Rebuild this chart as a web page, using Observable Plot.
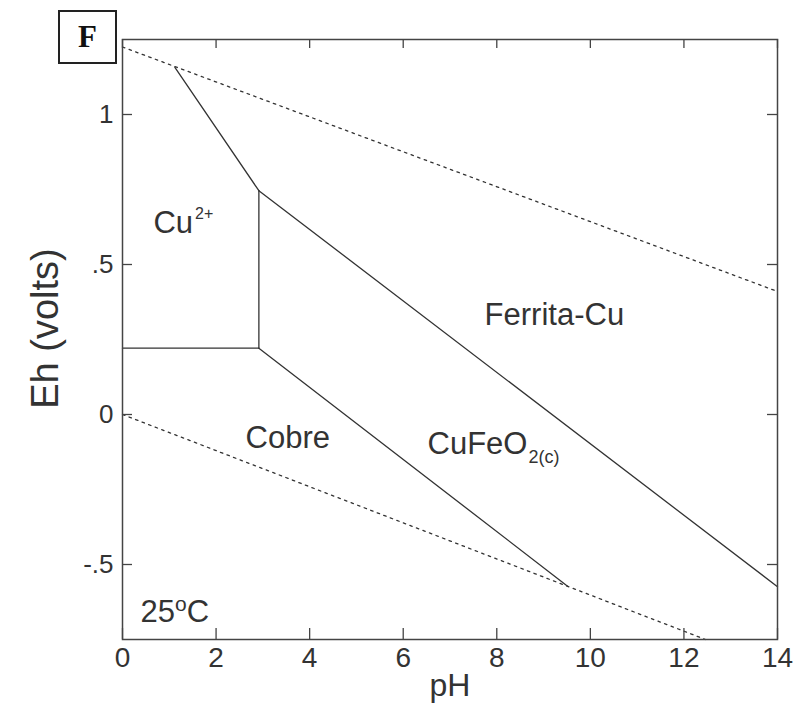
<!DOCTYPE html>
<html>
<head>
<meta charset="utf-8">
<script src="https://cdn.jsdelivr.net/npm/d3@7"></script>
<script src="https://cdn.jsdelivr.net/npm/@observablehq/plot@0.6"></script>
<style>
  html, body { margin: 0; padding: 0; background: white; }
  #wrap { position: relative; width: 796px; height: 707px; }
  #panel {
    position: absolute; left: 58px; top: 10px; width: 55px; height: 50px;
    border: 2px solid #222; background: white;
    font-family: "Liberation Serif", "Times New Roman", serif; font-weight: bold;
    font-size: 31px; color: #111; display: flex; align-items: center; justify-content: center;
  }
</style>
</head>
<body>
<div id="wrap"><div id="panel">F</div></div>
<script>
// Axis ticks
const xTicks = [0, 2, 4, 6, 8, 10, 12, 14];
const yTicks = [-0.5, 0, 0.5, 1];
const yTickLabels = ["-.5", "0", ".5", "1"];

// Water stability limits (dotted)
const waterUpper = [{pH: 0, Eh: 1.225}, {pH: 14, Eh: 0.41}];
const waterLower = [{pH: 0, Eh: 0}, {pH: 12.46, Eh: -0.75}];

// Phase boundaries (solid)
const cuFerrita = [{pH: 1.12, Eh: 1.157}, {pH: 2.915, Eh: 0.746}];
const cuVertical = [{pH: 2.915, Eh: 0.746}, {pH: 2.915, Eh: 0.221}];
const cuCobre = [{pH: 0, Eh: 0.221}, {pH: 2.915, Eh: 0.221}];
const ferritaCuFeO2 = [{pH: 2.915, Eh: 0.746}, {pH: 14, Eh: -0.574}];
const cuFeO2Cobre = [{pH: 2.915, Eh: 0.221}, {pH: 9.52, Eh: -0.573}];

// Region labels
const regionLabels = [
  {pH: 0.66, Eh: 0.606, main: "Cu", sup: "2+"},
  {pH: 7.74, Eh: 0.298, main: "Ferrita-Cu"},
  {pH: 2.63, Eh: -0.111, main: "Cobre"},
  {pH: 6.52, Eh: -0.131, main: "CuFeO", sub: "2(c)"},
  {pH: 0.385, Eh: -0.691, main: "25", sup: "o", after: "C"}
];

const ink = "#333";
const chart = Plot.plot({
  width: 796,
  height: 707,
  marginLeft: 122,
  marginRight: 19,
  marginTop: 39,
  marginBottom: 68,
  x: {domain: [0, 14]},
  y: {domain: [-0.75, 1.25]},
  style: {fontFamily: "'Liberation Sans', Arial, sans-serif", color: ink, background: "white"},
  marks: [
    Plot.line(waterUpper, {x: "pH", y: "Eh", stroke: ink, strokeWidth: 1.3, strokeDasharray: "2.5,4.5"}),
    Plot.line(waterLower, {x: "pH", y: "Eh", stroke: ink, strokeWidth: 1.3, strokeDasharray: "2.5,4.5"}),
    Plot.line(cuFerrita, {x: "pH", y: "Eh", stroke: ink, strokeWidth: 1.3}),
    Plot.line(cuVertical, {x: "pH", y: "Eh", stroke: ink, strokeWidth: 1.3}),
    Plot.line(cuCobre, {x: "pH", y: "Eh", stroke: ink, strokeWidth: 1.3}),
    Plot.line(ferritaCuFeO2, {x: "pH", y: "Eh", stroke: ink, strokeWidth: 1.3}),
    Plot.line(cuFeO2Cobre, {x: "pH", y: "Eh", stroke: ink, strokeWidth: 1.3}),
    // inward ticks
    Plot.tickX(xTicks, {x: d => d, insetTop: 589, stroke: "#444", strokeWidth: 1.3}),
    Plot.tickX(xTicks, {x: d => d, insetBottom: 591, stroke: "#444", strokeWidth: 1.3}),
    Plot.tickY(yTicks, {y: d => d, insetRight: 645, stroke: "#444", strokeWidth: 1.3}),
    Plot.tickY(yTicks, {y: d => d, insetLeft: 645, stroke: "#444", strokeWidth: 1.3}),
    Plot.frame({stroke: "#444", strokeWidth: 1.5}),
    Plot.axisX(xTicks, {tickSize: 0, tickPadding: 8, fontSize: 28, label: null}),
    Plot.axisY(yTicks, {tickSize: 0, tickPadding: 9, fontSize: 26, label: null,
      tickFormat: d => yTickLabels[yTicks.indexOf(d)]}),
    Plot.text(["pH"], {text: d => d, frameAnchor: "bottom", lineAnchor: "bottom", dy: 56, fontSize: 32, fill: ink}),
    Plot.text(["Eh (volts)"], {text: d => d, frameAnchor: "left", textAnchor: "middle", rotate: -90,
      lineAnchor: "bottom", dx: -65, dy: -11, fontSize: 38, fill: ink}),
    Plot.text(regionLabels, {x: "pH", y: "Eh", text: "main", textAnchor: "start", lineAnchor: "bottom",
      fontSize: 31, fill: ink})
  ]
});

// Add superscripts / subscripts as tspans
const mains = regionLabels.map(d => d.main);
d3.select(chart).selectAll("text").each(function() {
  const t = d3.select(this);
  if (this.querySelector("tspan")) return;
  const i = mains.indexOf(this.textContent);
  if (i < 0) return;
  const d = regionLabels[i];
  if (d.sup) {
    const small = d.after ? 21 : 16;
    const shift = d.after ? -11 : -14;
    t.append("tspan").attr("dx", d.after ? 0 : 2).attr("dy", shift).attr("font-size", small).text(d.sup);
    if (d.after) t.append("tspan").attr("dy", -shift).text(d.after);
  }
  if (d.sub) {
    t.append("tspan").attr("dx", 1).attr("dy", 9).attr("font-size", 18).text(d.sub);
  }
});

document.getElementById("wrap").prepend(chart);
</script>
</body>
</html>
